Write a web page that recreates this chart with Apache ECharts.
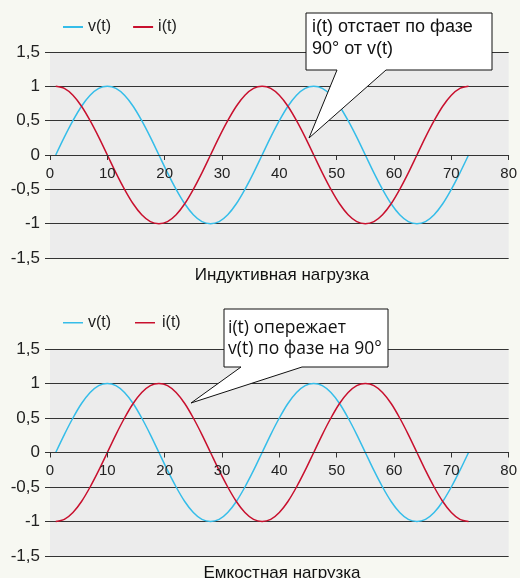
<!DOCTYPE html>
<html><head><meta charset="utf-8">
<script src="https://cdn.jsdelivr.net/npm/echarts@6/dist/echarts.min.js"></script>
<style>html,body{margin:0;padding:0;background:#f7f8f2;}#c{width:520px;height:578px;}</style>
</head><body><div id="c"></div>
<script>
const times = [1,2.5,4,5.5,7,8.5,10,11.5,13,14.5,16,17.5,19,20.5,22,23.5,25,26.5,28,29.5,31,32.5,34,35.5,37,38.5,40,41.5,43,44.5,46,47.5,49,50.5,52,53.5,55,56.5,58,59.5,61,62.5,64,65.5,67,68.5,70,71.5,73];
const vValues = [0,0.26,0.5,0.71,0.87,0.97,1,0.97,0.87,0.71,0.5,0.26,0,-0.26,-0.5,-0.71,-0.87,-0.97,-1,-0.97,-0.87,-0.71,-0.5,-0.26,0,0.26,0.5,0.71,0.87,0.97,1,0.97,0.87,0.71,0.5,0.26,0,-0.26,-0.5,-0.71,-0.87,-0.97,-1,-0.97,-0.87,-0.71,-0.5,-0.26,0];
const iInductive = [1,0.97,0.87,0.71,0.5,0.26,0,-0.26,-0.5,-0.71,-0.87,-0.97,-1,-0.97,-0.87,-0.71,-0.5,-0.26,0,0.26,0.5,0.71,0.87,0.97,1,0.97,0.87,0.71,0.5,0.26,0,-0.26,-0.5,-0.71,-0.87,-0.97,-1,-0.97,-0.87,-0.71,-0.5,-0.26,0,0.26,0.5,0.71,0.87,0.97,1];
const iCapacitive = [-1,-0.97,-0.87,-0.71,-0.5,-0.26,0,0.26,0.5,0.71,0.87,0.97,1,0.97,0.87,0.71,0.5,0.26,0,-0.26,-0.5,-0.71,-0.87,-0.97,-1,-0.97,-0.87,-0.71,-0.5,-0.26,0,0.26,0.5,0.71,0.87,0.97,1,0.97,0.87,0.71,0.5,0.26,0,-0.26,-0.5,-0.71,-0.87,-0.97,-1];
const seriesNames = ['v(t)','i(t)'];
const chartTitles = ['Индуктивная нагрузка','Емкостная нагрузка'];
const calloutTexts = ['i(t) отстает по фазе\n90° от v(t)','i(t) опережает\nv(t) по фазе на 90°'];

const BLUE = '#35bde9', RED = '#c8102e', DARK = '#333';
const FONT = 'Liberation Sans, Arial, sans-serif';
const pairs = (ys) => times.map((t,k) => [t, ys[k]]);
const GRID_H = [206, 207];

function xAxis(gi){
  return {type:'value', gridIndex:gi, min:0, max:80, interval:10, position:'bottom',
    offset: -GRID_H[gi] / 2,
    axisLine:{show:true, onZero:false, lineStyle:{color:DARK, width:1}},
    axisTick:{show:true, length:5, lineStyle:{color:DARK}},
    axisLabel:{fontSize:15, color:'#222', fontFamily:FONT, margin:11, showMaxLabel:true},
    splitLine:{show:false}, z:5};
}
function yAxis(gi){
  return {type:'value', gridIndex:gi, min:-1.5, max:1.5, interval:0.5, position:'left',
    axisLine:{show:false, onZero:false},
    axisTick:{show:true, length:5, lineStyle:{color:DARK}},
    axisLabel:{fontSize:17, color:'#222', fontFamily:FONT, margin:10,
      formatter: v => String(v).replace('.', ',')},
    splitLine:{show:true, lineStyle:{color:DARK, width:1}}};
}
function line(name, ys, color, gi){
  return {type:'line', name:name, xAxisIndex:gi, yAxisIndex:gi, data:pairs(ys),
    smooth:0.3, showSymbol:false, symbol:'none', lineStyle:{color:color, width:1.5},
    itemStyle:{color:color}, z:3, silent:true, animation:false};
}
function legendAt(top){
  return {top:top, left:63, padding:0, itemWidth:20, itemHeight:2, itemGap:22, icon:'rect',
    textStyle:{fontSize:16, color:'#222', fontFamily:FONT},
    data:seriesNames.map(n=>({name:n}))};
}
const chart = echarts.init(document.getElementById('c'));
chart.setOption({
  backgroundColor:'#f7f8f2',
  animation:false,
  title:[
    {text:chartTitles[0], left:277, top:262, textAlign:'center', textStyle:{fontSize:17, fontWeight:'normal', color:'#111', fontFamily:FONT}},
    {text:chartTitles[1], left:277, top:560, textAlign:'center', textStyle:{fontSize:17, fontWeight:'normal', color:'#111', fontFamily:FONT}}
  ],
  legend:[legendAt(19)],
  grid:[
    {left:50, right:8, top:52, height:GRID_H[0], show:true, backgroundColor:'#ececec', borderWidth:0},
    {left:50, right:8, top:349, height:GRID_H[1], show:true, backgroundColor:'#ececec', borderWidth:0}
  ],
  xAxis:[xAxis(0), xAxis(1)],
  yAxis:[yAxis(0), yAxis(1)],
  series:[
    line(seriesNames[0], vValues, BLUE, 0),
    line(seriesNames[1], iInductive, RED, 0),
    line(seriesNames[0], vValues, BLUE, 1),
    line(seriesNames[1], iCapacitive, RED, 1)
  ],
  graphic:[
    {type:'group', children:[
      {type:'rect', shape:{x:63, y:322, width:20, height:1.5}, style:{fill:BLUE}},
      {type:'text', x:88, y:323, style:{text:seriesNames[0], fill:'#222', font:'16px '+FONT, verticalAlign:'middle'}},
      {type:'rect', shape:{x:135, y:322, width:20, height:1.5}, style:{fill:RED}},
      {type:'text', x:162, y:323, style:{text:seriesNames[1], fill:'#222', font:'16px '+FONT, verticalAlign:'middle'}}
    ]},
    {type:'polygon', z:10, shape:{points:[[306,13],[492,13],[492,70],[386,70],[309,138],[337,70],[306,70]]},
      style:{fill:'#fff', stroke:'#111', lineWidth:1}},
    {type:'text', z:11, x:312, y:16, style:{text:calloutTexts[0], font:'18px '+FONT, fill:'#111', lineHeight:22}},
    {type:'polygon', z:10, shape:{points:[[224,309],[388,309],[388,367],[302,367],[191,403],[241,367],[224,367]]},
      style:{fill:'#fff', stroke:'#111', lineWidth:1}},
    {type:'text', z:11, x:228, y:318, style:{text:calloutTexts[1], font:'17.5px Open Sans, sans-serif', fill:'#111', lineHeight:21}}
  ]
});
</script></body></html>
